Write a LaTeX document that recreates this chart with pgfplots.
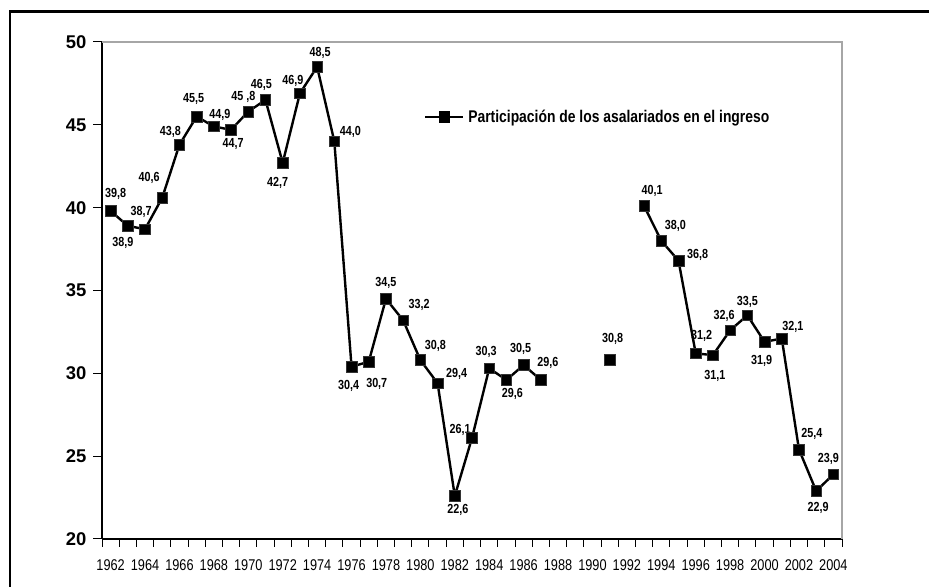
\documentclass[border=0pt]{standalone}
\usepackage{fontspec}
\setmainfont{Liberation Sans}
\newfontfamily\narrowfont{Liberation Sans}[FakeStretch=0.82]
\usepackage{pgfplots}
\usepackage{pgfplotstable}
\pgfplotsset{compat=1.18}

\pgfplotstableread[col sep=semicolon]{
x;y;dx;dy;lab
1962;39.8;5;17;39,8
1963;38.9;-5;-17;38,9
1964;38.7;-4;17;38,7
1965;40.6;-13;20;40,6
1966;43.8;-9;13;43,8
1967;45.5;-3;18;45,5
1968;44.9;6;12;44,9
1969;44.7;2;-14;44,7
1970;45.8;-5;15;45 ,8
1971;46.5;-4;15;46,5
1972;42.7;-5;-20;42,7
1973;46.9;-7;12;46,9
1974;48.5;3;14;48,5
1975;44.0;16;9;44,0
1976;30.4;-3;-19;30,4
1977;30.7;8;-22;30,7
1978;34.5;0;16;34,5
1979;33.2;16;15;33,2
1980;30.8;15;14;30,8
1981;29.4;19;9;29,4
1982;22.6;3;-14;22,6
1983;26.1;-12;8;26,1
1984;30.3;-3;16;30,3
1985;29.6;6;-14;29,6
1986;30.5;-3;16;30,5
1987;29.6;7;17;29,6
1991;30.8;3;21;30,8
1993;40.1;8;15;40,1
1994;38.0;14;15;38,0
1995;36.8;19;6;36,8
1996;31.2;6;18;31,2
1997;31.1;2;-21;31,1
1998;32.6;-6;14;32,6
1999;33.5;0;13;33,5
2000;31.9;-3;-19;31,9
2001;32.1;11;12;32,1
2002;25.4;13;16;25,4
2003;22.9;2;-17;22,9
2004;23.9;-5;15;23,9
}\datatable

\begin{document}
\begin{tikzpicture}[x=1bp,y=1bp]
\useasboundingbox (0,0) rectangle (929,587);
% outer frame (top and left edges visible)
\draw[line width=2.5bp, black] (10,0) -- (10,575.5) -- (929,575.5);
\begin{axis}[
  at={(102bp,48bp)}, anchor=south west,
  width=740bp, height=497bp, scale only axis,
  xmin=1961.5, xmax=2004.5, ymin=20, ymax=50,
  clip=false,
  axis x line*=bottom, axis y line*=left,
  axis line style={black, line width=1.4bp},
  tick align=outside,
  major tick length=9bp,
  minor tick length=8bp,
  tick style={black, line width=1bp},
  xtick={1962,1964,...,2004},
  xticklabels={1962,1964,1966,1968,1970,1972,1974,1976,1978,1980,1982,1984,1986,1988,1990,1992,1994,1996,1998,2000,2002,2004},
  every major x tick/.style={draw=none},
  minor xtick={1961.5,1962.5,...,2004.5},
  every minor x tick/.style={draw=black, line width=1bp},
  xticklabel style={font=\narrowfont\fontsize{15.6}{16}\selectfont, yshift=-8bp},
  ytick={20,25,...,50},
  yticklabel style={font=\bfseries\fontsize{18.5}{19}\selectfont, xshift=-3bp},
  /pgf/number format/assume math mode=true,
  legend style={at={(rel axis cs:0.435,0.849)}, anchor=west, draw=none, fill=none,
    inner sep=0pt, font=\narrowfont\bfseries\fontsize{17}{18}\selectfont,
    /tikz/every odd column/.append style={column sep=2bp}},
  legend image code/.code={\draw[mark repeat=2,mark phase=2,#1] plot coordinates {(0bp,0bp) (19bp,0bp) (38bp,0bp)};},
  after end axis/.code={
    \draw[gray!70, line width=2bp] (rel axis cs:0,1) -- (rel axis cs:1,1) -- (rel axis cs:1,0);
  },
]
\addlegendimage{black, line width=2.2bp, mark=square*, mark size=5.3bp, mark options={solid, line width=0.5bp}}
\addlegendentry{Participación de los asalariados en el ingreso}

\addplot[black, line width=2.4bp, no markers, forget plot, restrict x to domain=1962:1987] table[x=x,y=y] {\datatable};
\addplot[black, line width=2.4bp, no markers, forget plot, restrict x to domain=1993:2004] table[x=x,y=y] {\datatable};

\addplot[draw=none, no markers, forget plot,
  point meta=explicit symbolic,
  visualization depends on={\thisrow{dx}\as\myDX},
  visualization depends on={\thisrow{dy}\as\myDY},
  nodes near coords,
  nodes near coords style={anchor=center, text=black, inner sep=0pt,
    xshift=\myDX bp, yshift=\myDY bp,
    font=\narrowfont\bfseries\fontsize{13.2}{14}\selectfont}]
  table[x=x,y=y,meta=lab] {\datatable};

\addplot[only marks, mark=square*, mark size=5.3bp, forget plot,
  mark options={fill=black, draw=black!80, line width=0.6bp}]
  table[x=x,y=y] {\datatable};
\end{axis}
\end{tikzpicture}
\end{document}
